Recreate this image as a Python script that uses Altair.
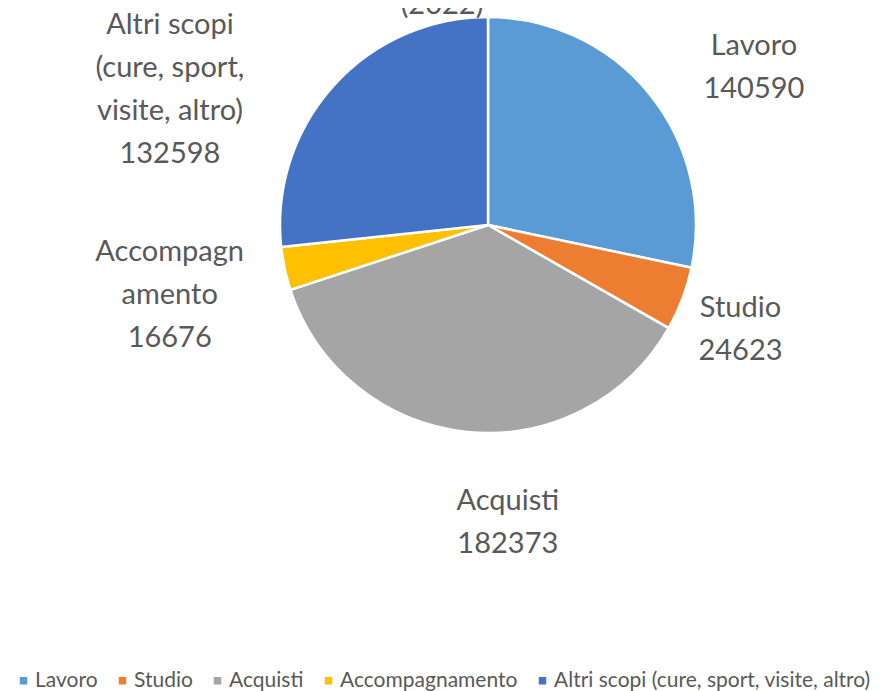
import altair as alt
import pandas as pd

categories = ["Lavoro", "Studio", "Acquisti", "Accompagnamento", "Altri scopi (cure, sport, visite, altro)"]
values = [140590, 24623, 182373, 16676, 132598]
label_names = ["Lavoro", "Studio", "Acquisti", "Accompagn\namento", "Altri scopi\n(cure, sport,\nvisite, altro)"]
colors = ["#5B9BD5", "#ED7D31", "#A5A5A5", "#FFC000", "#4472C4"]
title_text = "(2022)"

df = pd.DataFrame({
    "cat": categories,
    "val": values,
    "order": list(range(len(categories))),
    "label": [f"{n}\n{v}" for n, v in zip(label_names, values)],
})

CX, CY, R = 480, 217, 208
FONT = "Lato"
GRAY = "#595959"

base = alt.Chart(df).encode(
    theta=alt.Theta("val:Q", stack=True),
    order=alt.Order("order:Q"),
)

pie = base.mark_arc(stroke="white", strokeWidth=2.5).encode(
    x=alt.value(CX),
    y=alt.value(CY),
    radius=alt.value(R),
    color=alt.Color(
        "cat:N",
        sort=categories,
        scale=alt.Scale(domain=categories, range=colors),
        legend=alt.Legend(
            title=None,
            orient="none",
            direction="horizontal",
            legendX=5,
            legendY=662,
            symbolType="square",
            symbolSize=56,
            symbolStrokeWidth=0,
            labelFont=FONT,
            labelFontSize=21,
            labelColor=GRAY,
            labelLimit=500,
            columnPadding=14,
            symbolOffset=0,
            labelOffset=1,
        ),
    ),
)

LH = 43
offsets = [(33, 32), (-28, -2), (50, -1), (-25, 7), (-95, 65)]
text_layers = []
for i, cat in enumerate(categories):
    dx, dy = offsets[i]
    nlines = df["label"][i].count("\n") + 1
    t = base.mark_text(
        font=FONT, fontSize=29, color=GRAY, lineBreak="\n", lineHeight=LH,
        align="center", baseline="middle", dx=dx, dy=dy - (nlines - 1) * LH / 2,
    ).encode(
        x=alt.value(CX),
        y=alt.value(CY),
        radius=alt.value(300),
        text=alt.Text("label:N"),
        opacity=alt.condition(alt.datum.cat == cat, alt.value(1), alt.value(0)),
    )
    text_layers.append(t)

title = alt.Chart(pd.DataFrame({"t": [title_text]})).mark_text(
    font=FONT, fontSize=29, color=GRAY, align="center", baseline="alphabetic",
).encode(x=alt.value(434), y=alt.value(6), text="t:N")

chart = alt.layer(pie, *text_layers, title).properties(
    width=873, height=683, padding=0, autosize="none",
).configure_view(stroke=None)

chart.save("out.html", embed_options={"renderer": "svg", "actions": False})
